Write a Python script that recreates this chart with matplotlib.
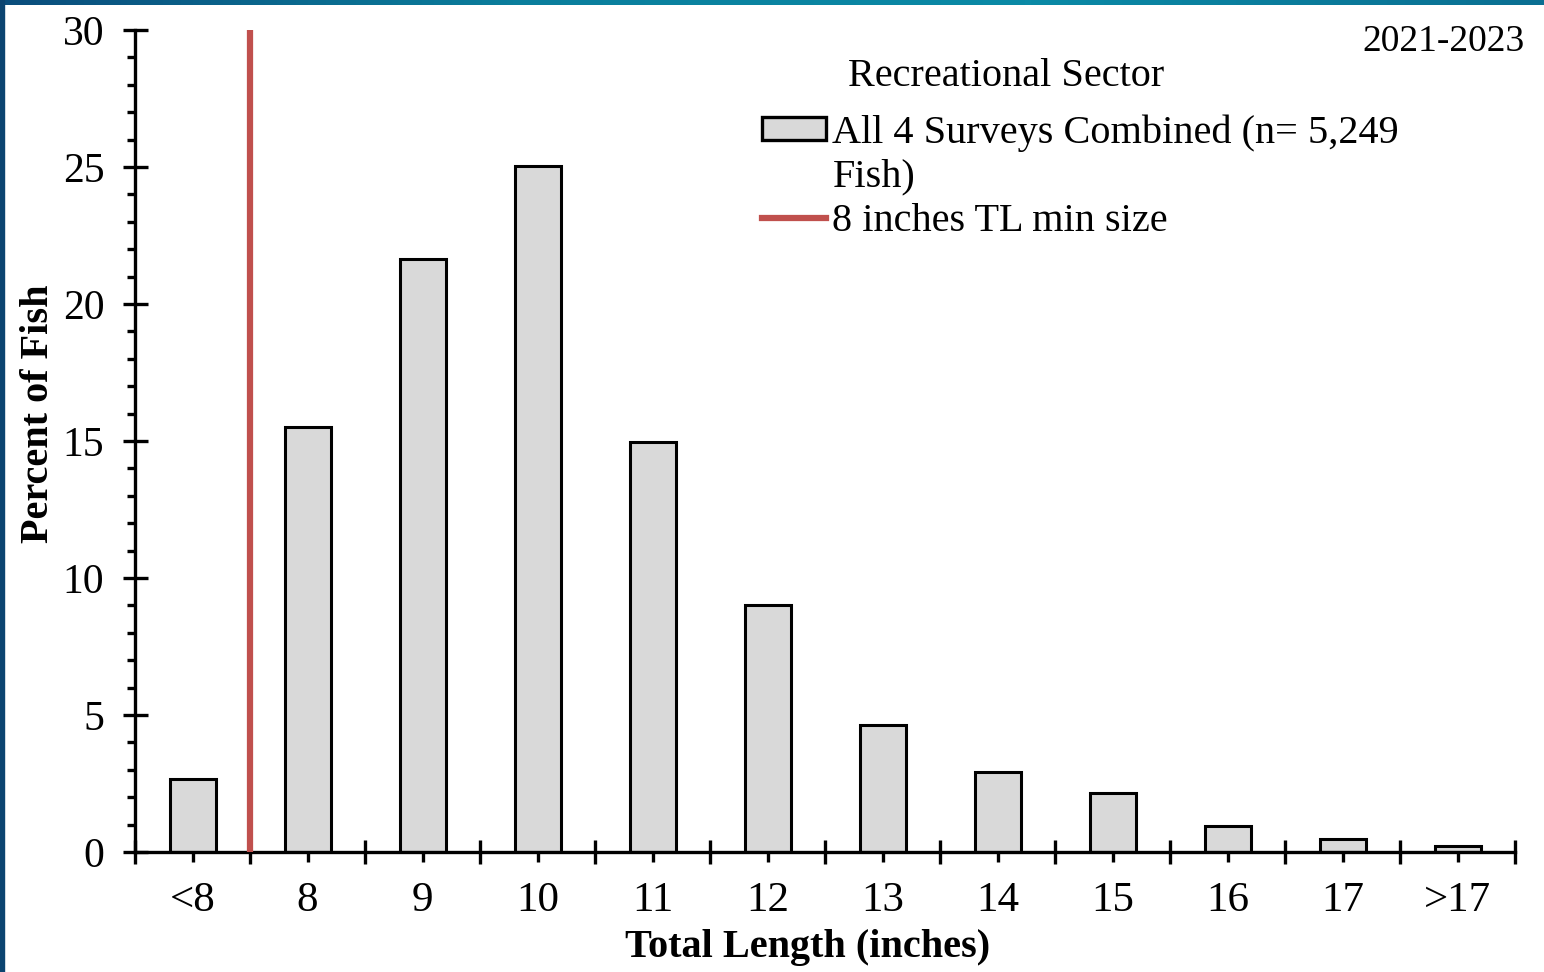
import matplotlib
matplotlib.use("Agg")
import matplotlib.pyplot as plt
import numpy as np
from matplotlib.patches import Rectangle, Patch
from matplotlib.lines import Line2D
from matplotlib.ticker import MultipleLocator, FixedLocator
from matplotlib.colors import LinearSegmentedColormap

categories = ["<8", "8", "9", "10", "11", "12", "13", "14", "15", "16", "17", ">17"]
percent = [2.65, 15.5, 21.65, 25.05, 14.97, 9.01, 4.63, 2.92, 2.15, 0.95, 0.47, 0.22]
min_size_pos = 0.5
legend_title = "Recreational Sector"
bar_label_lines = ["All 4 Surveys Combined (n= 5,249", "Fish)"]
line_label = "8 inches TL min size"
year_text = "2021-2023"

plt.rcParams['font.family'] = ['Liberation Serif', 'DejaVu Serif']

W, H = 1544, 972
fig = plt.figure(figsize=(W/100, H/100), dpi=100)
fig.patch.set_facecolor("white")

# border
top_grad = np.linspace(0, 1, 256).reshape(1, -1)
axb = fig.add_axes([0, 1 - 5/H, 1, 5/H])
cm = LinearSegmentedColormap.from_list("b", ["#0b4d7c", "#0a7e9c", "#0b8aa6", "#0a6f92"])
axb.imshow(top_grad, aspect="auto", cmap=cm, extent=[0, 1, 0, 1])
axb.axis("off")
fig.add_artist(Rectangle((0, 0), 4/W, 1, transform=fig.transFigure, color="#0b4470", zorder=5))

ax = fig.add_axes([135/W, (H-852)/H, (1515-135)/W, (852-30)/H])
x = np.arange(len(categories))
ax.bar(x, percent, width=0.4, color="#d9d9d9", edgecolor="black", linewidth=2.2, zorder=2)
ax.vlines(min_size_pos, 0, 30, color="#c0504d", linewidth=4.5, zorder=3)

ax.set_xlim(-0.5, len(categories) - 0.5)
ax.set_ylim(0, 30)
for s in ["top", "right"]:
    ax.spines[s].set_visible(False)
for s in ["left", "bottom"]:
    ax.spines[s].set_linewidth(2.4)

ax.yaxis.set_major_locator(MultipleLocator(5))
ax.yaxis.set_minor_locator(MultipleLocator(1))
ax.tick_params(axis="y", which="major", direction="inout", length=18, width=2.4, labelsize=30, pad=13)
ax.tick_params(axis="y", which="minor", direction="out", length=6, width=2.4)

ax.xaxis.set_major_locator(FixedLocator(np.arange(-0.5, len(categories), 1.0)))
ax.xaxis.set_minor_locator(FixedLocator(x))
ax.set_xticklabels([], minor=False)
ax.set_xticklabels(categories, minor=True)
ax.tick_params(axis="x", which="major", direction="inout", length=17, width=2.4, labelbottom=False)
ax.tick_params(axis="x", which="minor", direction="out", length=7, width=2.4, labelsize=31, pad=14.5)

ax.set_ylabel("Percent of Fish", fontsize=29, fontweight="bold", labelpad=4)
ax.yaxis.label.set_y((852 - 413.5) / 822)
ax.set_xlabel("Total Length (inches)", fontsize=29, fontweight="bold", labelpad=6)
ax.xaxis.label.set_x((807.5 - 135) / 1380)

handles = [Patch(facecolor="#d9d9d9", edgecolor="black", linewidth=2.4),
           Patch(facecolor="none", edgecolor="none"),
           Line2D([0], [0], color="#c0504d", linewidth=4.5)]
labels = [bar_label_lines[0], bar_label_lines[1], line_label]
leg = ax.legend(handles, labels,
                loc="upper left", bbox_to_anchor=((762-135)/1380, (852-114)/822), frameon=False,
                fontsize=29, handlelength=1.6, handleheight=0.5,
                handletextpad=0.15, labelspacing=0.18, borderaxespad=0, borderpad=0)

fig.text(1006.5/W, 1 - 76/H, legend_title, ha="center", va="center", fontsize=29)
fig.text(1525/W, 1 - 42/H, year_text, ha="right", va="center", fontsize=27)

fig.savefig("out.png", dpi=100)
